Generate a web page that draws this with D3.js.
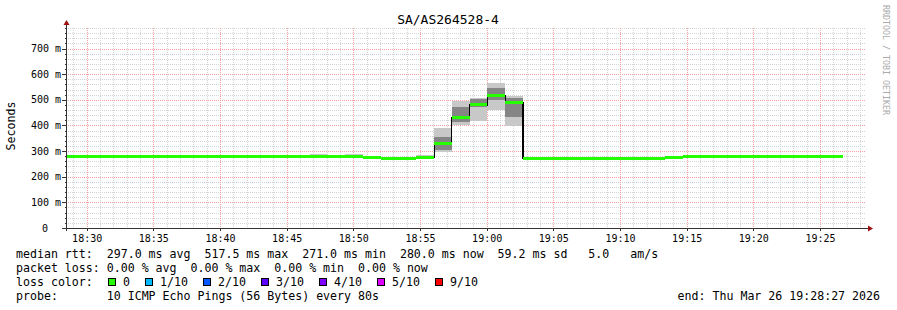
<!DOCTYPE html>
<html>
<head>
<meta charset="utf-8">
<script src="https://cdn.jsdelivr.net/npm/d3@7"></script>
<style>
  body { margin: 0; background: #fff; }
  svg { display: block; }
  text { font-family: "DejaVu Sans Mono", monospace; }
</style>
</head>
<body>
<div id="chart"></div>
<script>
// --- data (ms), one value per 80s step ---
const title = "SA/AS264528-4";
const yTicks = [0, 100, 200, 300, 400, 500, 600, 700];
const median = [280,280,280,280,280,280,280,280,280,280,280,280,280,280,
  279,279,279, 276, 271,271, 275, 330,432,480,517.5,489,
  272,272,272,272,272,272,272,272, 275,
  280,280,280,280,280,280,280,280,280];
const smokeLo = [277,277,277,277,277,277,277,277,277,277,277,277,277,277,
  276,277,276, 274, 269,269, 272, 295,402,418,460,399,
  270,270,270,270,270,270,270,270, 273,
  277,277,277,277,277,277,277,277,277];
const smokeHi = [283,283,283,283,283,283,283,283,283,283,283,283,283,283,
  287,282,287, 279, 274,274, 286, 391,495,508,567,515,
  275,275,275,275,275,275,275,275, 278,
  283,283,283,283,283,283,283,283,283];
const coreLo = [279,279,279,279,279,279,279,279,279,279,279,279,279,279,
  278,278,278, 275, 270,270, 274, 304,415,470,500,434,
  271,271,271,271,271,271,271,271, 274,
  279,279,279,279,279,279,279,279,279];
const coreHi = [281,281,281,281,281,281,281,281,281,281,281,281,281,281,
  280,280,280, 277, 272,272, 276, 356,471,503,545,506,
  273,273,273,273,273,273,273,273, 276,
  281,281,281,281,281,281,281,281,281];
const lost = [0,0,0,0,0,0,0,0,0,0,0,0,0,0,0,0,0,0,0,0,0,0,0,
  0,0,0,0,0,0,0,0,0,0,0,0,0,0,0,0,0,0,0,0,0];
const lossLabels = ["0", "1/10", "2/10", "3/10", "4/10", "5/10", "9/10"];
const lossLevels = [0, 1, 2, 3, 4, 5, 9];
const lossColors = ["#26ff00", "#00b8ff", "#0059ff", "#5e00ff", "#7e00ff", "#dd00ff", "#ff0000"];
const legendLines = [
  "median rtt:  297.0 ms avg  517.5 ms max  271.0 ms min  280.0 ms now  59.2 ms sd   5.0   am/s",
  "packet loss: 0.00 % avg  0.00 % max  0.00 % min  0.00 % now",
  "loss color:",
  "probe:       10 ICMP Echo Pings (56 Bytes) every 80s"
];
const endLabel = "end: Thu Mar 26 19:28:27 2026";

const tStart = new Date(2026, 2, 26, 18, 28, 27);
const tEnd = new Date(2026, 2, 26, 19, 28, 27);
const firstStep = new Date(2026, 2, 26, 18, 28, 3, 500);
const stepMs = 80000;

const W = 897, H = 310;
const pLeft = 66, pRight = 866, pTop = 28, pBottom = 228;

const svg = d3.select("#chart").append("svg")
  .attr("width", W).attr("height", H);

const x = d3.scaleTime().domain([tStart, tEnd]).range([pLeft, pRight]);
const y = d3.scaleLinear().domain([0, 780]).range([pBottom, pTop]);

// grid
const grid = svg.append("g").attr("shape-rendering", "crispEdges");
const minorX = d3.timeMinute.every(1).range(tStart, tEnd);
const majorX = d3.timeMinute.every(5).range(tStart, tEnd);
const minorY = d3.range(20, 781, 20);

grid.selectAll(".vminor").data(minorX).enter().append("line")
  .attr("x1", d => Math.round(x(d)) + 0.5).attr("x2", d => Math.round(x(d)) + 0.5)
  .attr("y1", pTop).attr("y2", pBottom)
  .attr("stroke", "#d4d4d4").attr("stroke-dasharray", "1,1");
grid.selectAll(".hminor").data(minorY).enter().append("line")
  .attr("x1", pLeft).attr("x2", pRight)
  .attr("y1", d => Math.round(y(d)) + 0.5).attr("y2", d => Math.round(y(d)) + 0.5)
  .attr("stroke", "#d4d4d4").attr("stroke-dasharray", "1,1");
grid.selectAll(".vmajor").data(majorX).enter().append("line")
  .attr("x1", d => Math.round(x(d)) + 0.5).attr("x2", d => Math.round(x(d)) + 0.5)
  .attr("y1", pTop).attr("y2", pBottom)
  .attr("stroke", "#f4a0a0").attr("stroke-dasharray", "1,1");
grid.selectAll(".hmajor").data(yTicks.slice(1)).enter().append("line")
  .attr("x1", pLeft).attr("x2", pRight)
  .attr("y1", d => Math.round(y(d)) + 0.5).attr("y2", d => Math.round(y(d)) + 0.5)
  .attr("stroke", "#f4a0a0").attr("stroke-dasharray", "1,1");

// plot content, clipped to graph area
svg.append("clipPath").attr("id", "plot")
  .append("rect").attr("x", pLeft).attr("y", pTop)
  .attr("width", pRight - pLeft).attr("height", pBottom - pTop);

const steps = median.map((m, i) => ({
  t0: new Date(+firstStep + i * stepMs),
  t1: new Date(+firstStep + (i + 1) * stepMs),
  m: m, lo: smokeLo[i], hi: smokeHi[i], clo: coreLo[i], chi: coreHi[i], lost: lost[i]
}));

const g = svg.append("g").attr("clip-path", "url(#plot)").attr("shape-rendering", "crispEdges");

g.selectAll(".smoke").data(steps).enter().append("rect")
  .attr("x", d => x(d.t0)).attr("width", d => x(d.t1) - x(d.t0))
  .attr("y", d => y(d.hi)).attr("height", d => y(d.lo) - y(d.hi))
  .attr("fill", "#c8c8c8");
g.selectAll(".core").data(steps).enter().append("rect")
  .attr("x", d => x(d.t0)).attr("width", d => x(d.t1) - x(d.t0))
  .attr("y", d => y(d.chi)).attr("height", d => y(d.clo) - y(d.chi))
  .attr("fill", "#858585");

const stepLine = d3.line()
  .x(d => x(d[0])).y(d => y(d[1]))
  .curve(d3.curveStepAfter);
const linePts = steps.map(d => [d.t0, d.m]);
linePts.push([steps[steps.length - 1].t1, steps[steps.length - 1].m]);
g.append("path").datum(linePts)
  .attr("d", stepLine)
  .attr("fill", "none").attr("stroke", "#000").attr("stroke-width", 1.2);

g.selectAll(".med").data(steps).enter().append("rect")
  .attr("x", d => x(d.t0)).attr("width", d => x(d.t1) - x(d.t0))
  .attr("y", d => y(d.m) - 1.5).attr("height", 3)
  .attr("fill", d => lossColors[lossLevels.indexOf(d.lost)]);

// axes
const axis = svg.append("g").attr("shape-rendering", "crispEdges");
axis.append("line").attr("x1", pLeft - 4).attr("x2", pRight + 2)
  .attr("y1", pBottom + 0.5).attr("y2", pBottom + 0.5).attr("stroke", "#333");
axis.append("line").attr("x1", pLeft + 0.5).attr("x2", pLeft + 0.5)
  .attr("y1", pBottom + 3).attr("y2", pTop - 4).attr("stroke", "#333");
axis.selectAll(".yt").data(yTicks).enter().append("line")
  .attr("x1", pLeft - 4).attr("x2", pLeft)
  .attr("y1", d => Math.round(y(d)) + 0.5).attr("y2", d => Math.round(y(d)) + 0.5)
  .attr("stroke", "#333");
axis.selectAll(".ymt").data(minorY).enter().append("line")
  .attr("x1", pLeft - 1).attr("x2", pLeft)
  .attr("y1", d => Math.round(y(d)) + 0.5).attr("y2", d => Math.round(y(d)) + 0.5)
  .attr("stroke", "#333");
axis.selectAll(".xt").data(majorX).enter().append("line")
  .attr("x1", d => Math.round(x(d)) + 0.5).attr("x2", d => Math.round(x(d)) + 0.5)
  .attr("y1", pBottom).attr("y2", pBottom + 3)
  .attr("stroke", "#333");

// arrows
svg.append("path").attr("d", `M${pLeft - 2.5},${pTop - 3} L${pLeft + 3.5},${pTop - 3} L${pLeft + 0.5},${pTop - 8} Z`)
  .attr("fill", "#a01010");
svg.append("path").attr("d", `M${pRight + 2},${pBottom - 2.5} L${pRight + 2},${pBottom + 3.5} L${pRight + 7},${pBottom + 0.5} Z`)
  .attr("fill", "#a01010");

// tick labels
svg.selectAll(".ylab").data(yTicks).enter().append("text")
  .attr("x", d => d === 0 ? 48 : 61).attr("y", d => y(d) + 3.5)
  .attr("text-anchor", "end").attr("font-size", "10px").attr("fill", "#000")
  .text(d => d === 0 ? "0" : d + " m");

const fmt = d3.timeFormat("%H:%M");
svg.selectAll(".xlab").data(majorX).enter().append("text")
  .attr("x", d => x(d) + 0.5).attr("y", 241.5)
  .attr("text-anchor", "middle").attr("font-size", "10px").attr("fill", "#000")
  .text(d => fmt(d));

// titles
svg.append("text").attr("x", 448).attr("y", 24)
  .attr("text-anchor", "middle").attr("font-size", "13px").attr("fill", "#000")
  .text(title);
svg.append("text").attr("transform", "translate(15,126) rotate(-90)")
  .attr("text-anchor", "middle").attr("font-size", "11.6px").attr("fill", "#000")
  .text("Seconds");
svg.append("text").attr("transform", "translate(883,5) rotate(90)")
  .attr("text-anchor", "start").attr("font-size", "8.3px").attr("fill", "#aaa")
  .text("RRDTOOL / TOBI OETIKER");

// legend
const legY = [257.7, 271.7, 285.7, 299.7];
svg.selectAll(".leg").data(legendLines).enter().append("text")
  .attr("x", 16).attr("y", (d, i) => legY[i])
  .attr("font-size", "11.6px").attr("fill", "#000")
  .style("white-space", "pre")
  .text(d => d);

let lx = 108;
lossLabels.forEach((lab, i) => {
  svg.append("rect").attr("x", lx + 0.5).attr("y", 278.5)
    .attr("width", 7).attr("height", 7)
    .attr("fill", lossColors[i]).attr("stroke", "#000").attr("stroke-width", 1)
    .attr("shape-rendering", "crispEdges");
  svg.append("text").attr("x", lx + 15).attr("y", legY[2])
    .attr("font-size", "11.6px").attr("fill", "#000").text(lab);
  lx += 15 + lab.length * 7 + 15;
});

svg.append("text").attr("x", 880).attr("y", legY[3])
  .attr("text-anchor", "end").attr("font-size", "11.6px").attr("fill", "#000")
  .text(endLabel);
</script>
</body>
</html>
